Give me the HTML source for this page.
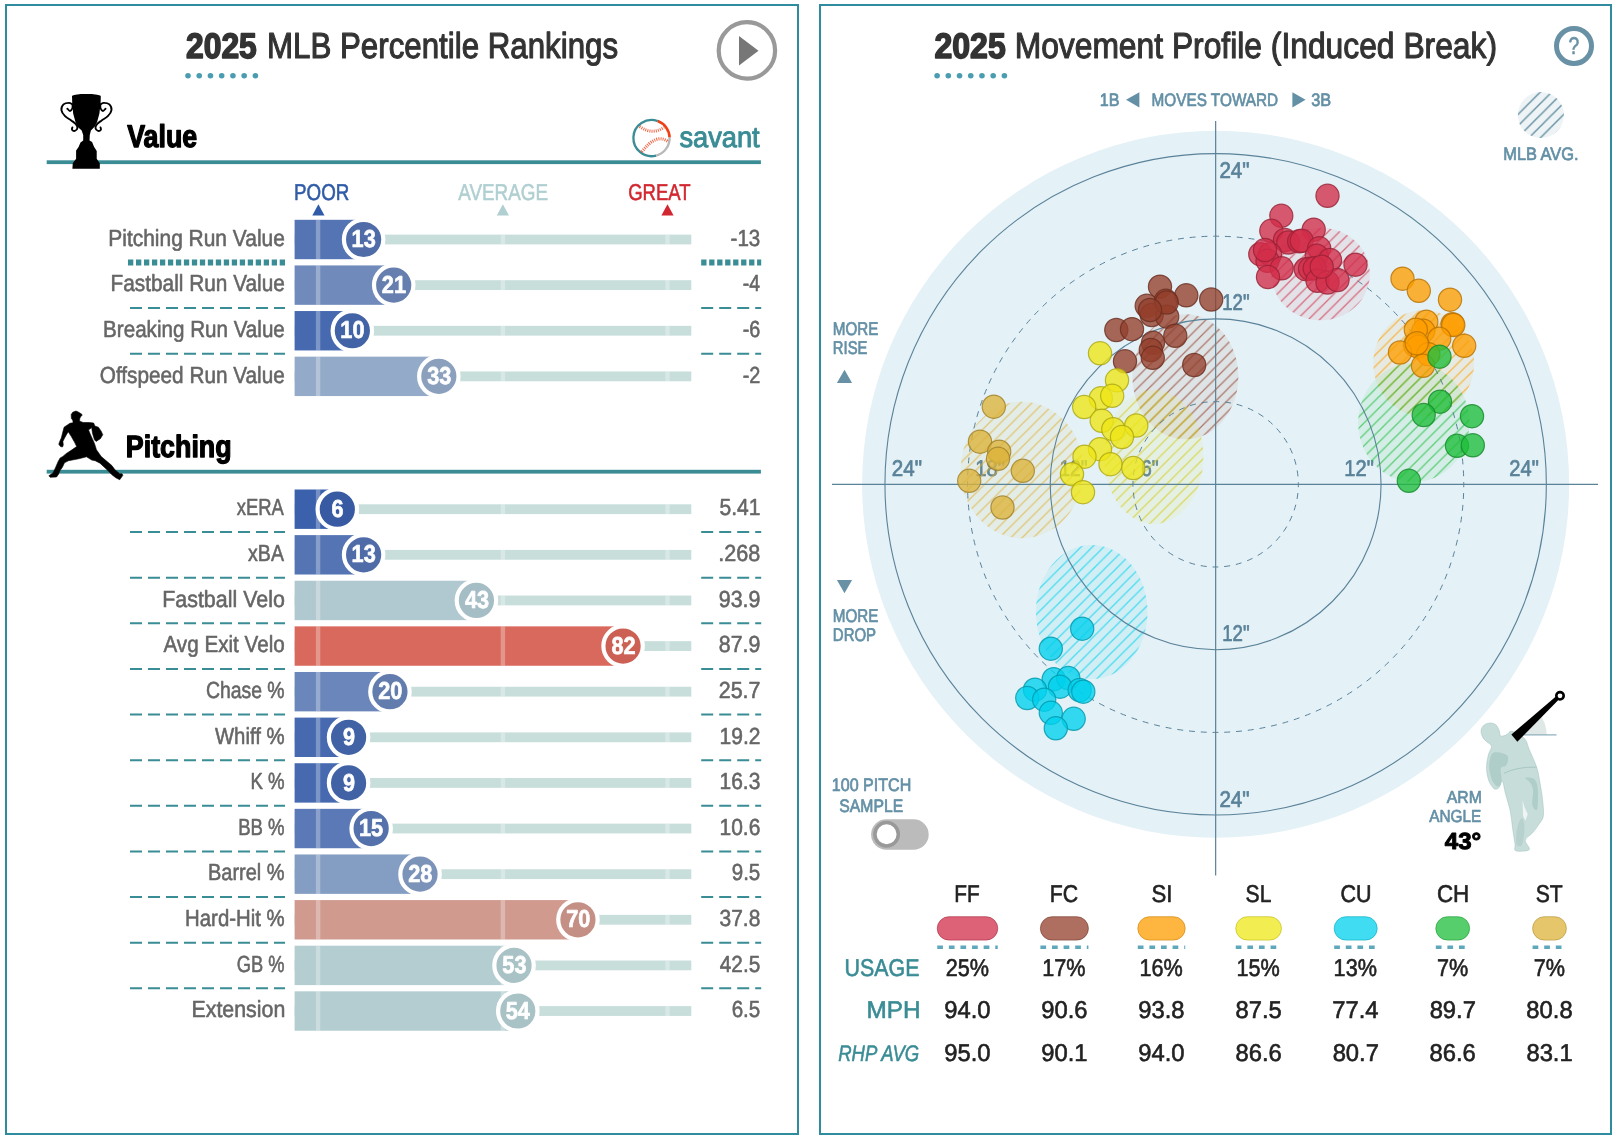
<!DOCTYPE html>
<html lang="en"><head><meta charset="utf-8"><title>Percentile Rankings and Movement Profile</title>
<style>html,body{margin:0;padding:0;background:#fff}svg{display:block;will-change:transform}</style></head>
<body>
<svg width="1620" height="1140" viewBox="0 0 1620 1140" font-family="'Liberation Sans', sans-serif" text-rendering="geometricPrecision">
<rect width="1620" height="1140" fill="#fff"/>
<rect x="6" y="5" width="792" height="1129" fill="#fff" stroke="#2f8c9f" stroke-width="2"/>
<rect x="820" y="5" width="791" height="1129" fill="#fff" stroke="#2f8c9f" stroke-width="2"/>
<text x="186.01" y="58.19" font-size="35.43" fill="#333" textLength="70.76" lengthAdjust="spacingAndGlyphs" stroke="#333" stroke-width="1.62" stroke-linejoin="round" font-weight="700">2025</text>
<text x="267.00" y="58.44" font-size="36.15" fill="#333" textLength="351.07" lengthAdjust="spacingAndGlyphs" stroke="#333" stroke-width="1.13" stroke-linejoin="round">MLB Percentile Rankings</text>
<circle cx="188.00" cy="75.7" r="2.8" fill="#4a9db0"/>
<circle cx="199.23" cy="75.7" r="2.8" fill="#4a9db0"/>
<circle cx="210.47" cy="75.7" r="2.8" fill="#4a9db0"/>
<circle cx="221.70" cy="75.7" r="2.8" fill="#4a9db0"/>
<circle cx="232.93" cy="75.7" r="2.8" fill="#4a9db0"/>
<circle cx="244.17" cy="75.7" r="2.8" fill="#4a9db0"/>
<circle cx="255.40" cy="75.7" r="2.8" fill="#4a9db0"/>
<circle cx="746.9" cy="50.4" r="28.2" fill="none" stroke="#999" stroke-width="4.2"/>
<path d="M739 36 L739 65.5 L758.5 50.7 Z" fill="#777"/>
<rect x="46.7" y="160.3" width="714.2" height="3.8" fill="#3a8c95"/>
<rect x="46.7" y="469.8" width="714.2" height="3.8" fill="#3a8c95"/>
<path d="M72.01 96.34 L72.55 95.41 L75.48 94.64 L80.89 94.10 L86.29 93.95 L91.70 94.10 L97.10 94.64 L100.19 95.41 L100.81 96.34 L100.58 103.44 L99.42 113.48 L97.10 121.98 L94.79 126.61 L90.93 130.47 L89.77 135.10 L89.54 140.51 L92.08 142.05 L94.02 146.69 L96.72 150.93 L96.72 158.66 L99.81 163.29 L99.81 168.69 L72.39 168.69 L72.78 163.29 L76.10 158.66 L76.10 150.55 L78.57 147.07 L80.50 142.44 L83.20 140.51 L83.20 135.10 L81.66 130.47 L77.80 127.00 L75.48 121.98 L73.17 113.48 L72.24 103.44 Z" fill="#000"/>
<path d="M72.55 104.37 C71.94 104.11 70.42 102.83 68.92 102.83 C67.41 102.83 64.76 103.17 63.51 104.37 C62.27 105.57 61.17 108.04 61.43 110.01 C61.69 111.98 63.42 114.45 65.06 116.19 C66.69 117.92 69.43 119.11 71.24 120.43 C73.04 121.76 74.84 122.85 75.87 124.14 C76.90 125.43 77.58 127.03 77.41 128.15 C77.25 129.27 75.77 130.60 74.86 130.86 C73.96 131.11 72.42 130.28 72.01 129.70 C71.60 129.12 72.33 127.77 72.39 127.38" fill="none" stroke="#000" stroke-width="1.9" stroke-linecap="round"/>
<path d="M72.55 104.37 C72.52 105.01 72.83 107.12 72.39 108.23 C71.96 109.34 70.76 110.93 69.92 111.01 C69.09 111.09 67.80 109.08 67.37 108.69" fill="none" stroke="#000" stroke-width="1.9" stroke-linecap="round"/>
<path d="M100.35 104.37 C100.95 104.11 102.47 102.83 103.98 102.83 C105.48 102.83 108.13 103.17 109.38 104.37 C110.63 105.57 111.72 108.04 111.47 110.01 C111.21 111.98 109.47 114.45 107.84 116.19 C106.20 117.92 103.46 119.11 101.66 120.43 C99.86 121.76 98.06 122.85 97.03 124.14 C96.00 125.43 95.32 127.03 95.48 128.15 C95.65 129.27 97.13 130.60 98.03 130.86 C98.93 131.11 100.48 130.28 100.89 129.70 C101.30 129.12 100.57 127.77 100.50 127.38" fill="none" stroke="#000" stroke-width="1.9" stroke-linecap="round"/>
<path d="M100.35 104.37 C100.37 105.01 100.06 107.12 100.50 108.23 C100.94 109.34 102.14 110.93 102.97 111.01 C103.81 111.09 105.10 109.08 105.52 108.69" fill="none" stroke="#000" stroke-width="1.9" stroke-linecap="round"/>
<text x="127.18" y="147.34" font-size="31.52" fill="#000" textLength="70.06" lengthAdjust="spacingAndGlyphs" stroke="#000" stroke-width="1.31" stroke-linejoin="round" font-weight="700">Value</text>
<path d="M656.18 155.58 A18.1 18.1 0 1 1 657.69 121.09" fill="none" stroke="#3a8c95" stroke-width="2.3"/>
<path d="M657.69 121.09 A18.1 18.1 0 0 1 669.59 137.47" fill="none" stroke="#ee4015" stroke-width="2.6"/>
<path d="M669.59 137.47 A18.1 18.1 0 0 1 656.18 155.58" fill="none" stroke="#b8b8b8" stroke-width="2.3"/>
<path d="M639.61 126.52 Q652.40 135.52 664.04 127.30" fill="none" stroke="#ee4a25" stroke-width="3" stroke-dasharray="1 1.15" opacity=".85"/>
<path d="M641.67 151.95 Q656.51 132.78 667.69 141.45" fill="none" stroke="#ee4a25" stroke-width="3.2" stroke-dasharray="1 1.15" opacity=".85"/>
<text x="679.42" y="147.12" font-size="28.97" fill="#3a8c95" textLength="80.29" lengthAdjust="spacingAndGlyphs" stroke="#3a8c95" stroke-width="0.97" stroke-linejoin="round">savant</text>
<text x="294.05" y="199.71" font-size="22.86" fill="#2f5ba8" textLength="55.24" lengthAdjust="spacingAndGlyphs" stroke="#2f5ba8" stroke-width="0.57" stroke-linejoin="round">POOR</text>
<text x="458.25" y="199.71" font-size="22.86" fill="#b0cfd1" textLength="89.76" lengthAdjust="spacingAndGlyphs" stroke="#b0cfd1" stroke-width="0.57" stroke-linejoin="round">AVERAGE</text>
<text x="628.17" y="199.71" font-size="22.86" fill="#d22730" textLength="62.46" lengthAdjust="spacingAndGlyphs" stroke="#d22730" stroke-width="0.57" stroke-linejoin="round">GREAT</text>
<path d="M318.4 204.2 L324.5 215.5 L312.29999999999995 215.5 Z" fill="#2f5ba8"/>
<path d="M502.9 204.2 L509.0 215.5 L496.79999999999995 215.5 Z" fill="#b0cfd1"/>
<path d="M667.5 204.2 L673.6 215.5 L661.4 215.5 Z" fill="#d22730"/>
<rect x="294.6" y="234.60" width="396.70" height="9.8" fill="#c7dedb"/>
<rect x="294.6" y="219.80" width="69.03" height="39.4" fill="#5474b4"/>
<rect x="315.90" y="219.80" width="4.4" height="39.4" fill="#fff" opacity=".3"/>
<rect x="500.70" y="234.60" width="4.4" height="9.8" fill="#fff" opacity=".3"/>
<rect x="665.30" y="234.60" width="4.4" height="9.8" fill="#fff" opacity=".3"/>
<circle cx="363.63" cy="239.50" r="19.7" fill="#4f6ca8" stroke="#fff" stroke-width="4.2"/>
<text x="351.57" y="247.14" font-size="24.40" fill="#fff" textLength="24.15" lengthAdjust="spacingAndGlyphs" stroke="#fff" stroke-width="0.71" stroke-linejoin="round" font-weight="700">13</text>
<text x="108.29" y="245.71" font-size="23.28" fill="#666" textLength="176.54" lengthAdjust="spacingAndGlyphs" stroke="#666" stroke-width="0.58" stroke-linejoin="round">Pitching Run Value</text>
<text x="730.58" y="245.71" font-size="23.28" fill="#666" textLength="29.74" lengthAdjust="spacingAndGlyphs" stroke="#666" stroke-width="0.58" stroke-linejoin="round">-13</text>
<rect x="294.6" y="280.22" width="396.70" height="9.8" fill="#c7dedb"/>
<rect x="294.6" y="265.42" width="99.11" height="39.4" fill="#6f8abb"/>
<rect x="315.90" y="265.42" width="4.4" height="39.4" fill="#fff" opacity=".3"/>
<rect x="500.70" y="280.22" width="4.4" height="9.8" fill="#fff" opacity=".3"/>
<rect x="665.30" y="280.22" width="4.4" height="9.8" fill="#fff" opacity=".3"/>
<circle cx="393.71" cy="285.12" r="19.7" fill="#667fae" stroke="#fff" stroke-width="4.2"/>
<text x="381.86" y="292.76" font-size="24.40" fill="#fff" textLength="24.15" lengthAdjust="spacingAndGlyphs" stroke="#fff" stroke-width="0.71" stroke-linejoin="round" font-weight="700">21</text>
<text x="110.60" y="291.33" font-size="23.28" fill="#666" textLength="174.23" lengthAdjust="spacingAndGlyphs" stroke="#666" stroke-width="0.58" stroke-linejoin="round">Fastball Run Value</text>
<text x="742.73" y="291.33" font-size="23.28" fill="#666" textLength="17.25" lengthAdjust="spacingAndGlyphs" stroke="#666" stroke-width="0.58" stroke-linejoin="round">-4</text>
<rect x="294.6" y="325.84" width="396.70" height="9.8" fill="#c7dedb"/>
<rect x="294.6" y="311.04" width="57.75" height="39.4" fill="#4669b0"/>
<rect x="315.90" y="311.04" width="4.4" height="39.4" fill="#fff" opacity=".3"/>
<rect x="500.70" y="325.84" width="4.4" height="9.8" fill="#fff" opacity=".3"/>
<rect x="665.30" y="325.84" width="4.4" height="9.8" fill="#fff" opacity=".3"/>
<circle cx="352.35" cy="330.74" r="19.7" fill="#4263a5" stroke="#fff" stroke-width="4.2"/>
<text x="340.34" y="338.38" font-size="24.40" fill="#fff" textLength="24.15" lengthAdjust="spacingAndGlyphs" stroke="#fff" stroke-width="0.71" stroke-linejoin="round" font-weight="700">10</text>
<text x="103.12" y="336.95" font-size="23.28" fill="#666" textLength="181.70" lengthAdjust="spacingAndGlyphs" stroke="#666" stroke-width="0.58" stroke-linejoin="round">Breaking Run Value</text>
<text x="742.71" y="336.95" font-size="23.28" fill="#666" textLength="17.56" lengthAdjust="spacingAndGlyphs" stroke="#666" stroke-width="0.58" stroke-linejoin="round">-6</text>
<rect x="294.6" y="371.46" width="396.70" height="9.8" fill="#c7dedb"/>
<rect x="294.6" y="356.66" width="144.23" height="39.4" fill="#93aac8"/>
<rect x="315.90" y="356.66" width="4.4" height="39.4" fill="#fff" opacity=".3"/>
<rect x="500.70" y="371.46" width="4.4" height="9.8" fill="#fff" opacity=".3"/>
<rect x="665.30" y="371.46" width="4.4" height="9.8" fill="#fff" opacity=".3"/>
<circle cx="438.83" cy="376.36" r="19.7" fill="#8aa0bd" stroke="#fff" stroke-width="4.2"/>
<text x="427.20" y="384.00" font-size="24.40" fill="#fff" textLength="24.15" lengthAdjust="spacingAndGlyphs" stroke="#fff" stroke-width="0.71" stroke-linejoin="round" font-weight="700">33</text>
<text x="99.82" y="382.57" font-size="23.28" fill="#666" textLength="185.00" lengthAdjust="spacingAndGlyphs" stroke="#666" stroke-width="0.58" stroke-linejoin="round">Offspeed Run Value</text>
<text x="742.71" y="382.57" font-size="23.28" fill="#666" textLength="17.70" lengthAdjust="spacingAndGlyphs" stroke="#666" stroke-width="0.58" stroke-linejoin="round">-2</text>
<line x1="128" y1="262.50" x2="285" y2="262.50" stroke="#3a8c95" stroke-width="6" stroke-dasharray="5.3 2.684" stroke-dashoffset="0"/>
<line x1="701.2" y1="262.50" x2="761.2" y2="262.50" stroke="#3a8c95" stroke-width="6" stroke-dasharray="5.3 2.684" stroke-dashoffset="0"/>
<line x1="130" y1="308.02" x2="285" y2="308.02" stroke="#3a8c95" stroke-width="2" stroke-dasharray="12 6" stroke-dashoffset="0"/>
<line x1="701.2" y1="308.02" x2="761.2" y2="308.02" stroke="#3a8c95" stroke-width="2" stroke-dasharray="12 6" stroke-dashoffset="0"/>
<line x1="130" y1="353.64" x2="285" y2="353.64" stroke="#3a8c95" stroke-width="2" stroke-dasharray="12 6" stroke-dashoffset="0"/>
<line x1="701.2" y1="353.64" x2="761.2" y2="353.64" stroke="#3a8c95" stroke-width="2" stroke-dasharray="12 6" stroke-dashoffset="0"/>
<path d="M75.91 411.05 L77.88 411.84 L81.83 414.21 L81.99 415.39 L80.65 416.73 L79.86 418.31 L79.46 420.92 L83.01 422.49 L89.33 422.49 L93.67 423.05 L94.85 426.05 L98.41 427.23 L101.17 431.18 L102.75 434.73 L100.38 438.67 L96.04 441.44 L94.46 439.86 L92.49 433.15 L91.70 427.62 L88.54 429.99 L90.51 434.73 L94.46 443.41 L96.43 449.72 L101.17 456.43 L107.09 461.56 L111.82 465.51 L114.98 469.85 L119.72 473.80 L122.08 473.80 L122.87 475.37 L119.72 479.72 L115.77 477.74 L112.22 474.98 L107.09 469.85 L99.98 463.14 L95.25 460.77 L91.70 459.98 L86.57 456.83 L78.67 458.80 L68.41 460.77 L64.47 462.75 L62.49 467.09 L59.73 471.03 L58.55 474.19 L56.57 476.95 L50.26 477.35 L48.84 475.77 L53.02 473.01 L55.39 467.88 L58.15 461.56 L60.13 458.01 L62.89 456.43 L66.05 453.67 L71.57 450.12 L76.70 446.57 L74.73 442.62 L71.18 436.31 L68.41 431.97 L67.23 433.15 L64.47 438.28 L62.89 441.44 L63.28 444.99 L62.49 446.96 L60.52 446.57 L58.78 444.20 L59.73 441.44 L61.31 437.88 L64.07 427.23 L69.99 423.28 L73.15 422.73 L72.75 420.13 L71.41 418.55 L71.18 414.60 L72.75 412.23 Z" fill="#000" stroke="#000" stroke-width=".6" stroke-linejoin="round"/>
<text x="125.85" y="457.36" font-size="30.84" fill="#000" textLength="105.80" lengthAdjust="spacingAndGlyphs" stroke="#000" stroke-width="1.28" stroke-linejoin="round" font-weight="700">Pitching</text>
<rect x="294.6" y="504.30" width="396.70" height="9.8" fill="#c7dedb"/>
<rect x="294.6" y="489.50" width="42.71" height="39.4" fill="#3b61ad"/>
<rect x="315.90" y="489.50" width="4.4" height="39.4" fill="#fff" opacity=".3"/>
<rect x="500.70" y="504.30" width="4.4" height="9.8" fill="#fff" opacity=".3"/>
<rect x="665.30" y="504.30" width="4.4" height="9.8" fill="#fff" opacity=".3"/>
<circle cx="337.31" cy="509.20" r="19.7" fill="#375aa2" stroke="#fff" stroke-width="4.2"/>
<text x="331.58" y="516.84" font-size="24.40" fill="#fff" textLength="12.04" lengthAdjust="spacingAndGlyphs" stroke="#fff" stroke-width="0.71" stroke-linejoin="round" font-weight="700">6</text>
<text x="236.78" y="515.41" font-size="23.28" fill="#666" textLength="47.16" lengthAdjust="spacingAndGlyphs" stroke="#666" stroke-width="0.58" stroke-linejoin="round">xERA</text>
<text x="719.45" y="515.41" font-size="23.28" fill="#666" textLength="40.99" lengthAdjust="spacingAndGlyphs" stroke="#666" stroke-width="0.58" stroke-linejoin="round">5.41</text>
<line x1="130" y1="532.10" x2="285" y2="532.10" stroke="#3a8c95" stroke-width="2" stroke-dasharray="12 6" stroke-dashoffset="0"/>
<line x1="701.2" y1="532.10" x2="761.2" y2="532.10" stroke="#3a8c95" stroke-width="2" stroke-dasharray="12 6" stroke-dashoffset="0"/>
<rect x="294.6" y="549.92" width="396.70" height="9.8" fill="#c7dedb"/>
<rect x="294.6" y="535.12" width="69.03" height="39.4" fill="#5474b4"/>
<rect x="315.90" y="535.12" width="4.4" height="39.4" fill="#fff" opacity=".3"/>
<rect x="500.70" y="549.92" width="4.4" height="9.8" fill="#fff" opacity=".3"/>
<rect x="665.30" y="549.92" width="4.4" height="9.8" fill="#fff" opacity=".3"/>
<circle cx="363.63" cy="554.82" r="19.7" fill="#4f6ca8" stroke="#fff" stroke-width="4.2"/>
<text x="351.57" y="562.46" font-size="24.40" fill="#fff" textLength="24.15" lengthAdjust="spacingAndGlyphs" stroke="#fff" stroke-width="0.71" stroke-linejoin="round" font-weight="700">13</text>
<text x="248.07" y="561.03" font-size="23.28" fill="#666" textLength="35.88" lengthAdjust="spacingAndGlyphs" stroke="#666" stroke-width="0.58" stroke-linejoin="round">xBA</text>
<text x="718.32" y="561.03" font-size="23.28" fill="#666" textLength="42.03" lengthAdjust="spacingAndGlyphs" stroke="#666" stroke-width="0.58" stroke-linejoin="round">.268</text>
<line x1="130" y1="577.72" x2="285" y2="577.72" stroke="#3a8c95" stroke-width="2" stroke-dasharray="12 6" stroke-dashoffset="0"/>
<line x1="701.2" y1="577.72" x2="761.2" y2="577.72" stroke="#3a8c95" stroke-width="2" stroke-dasharray="12 6" stroke-dashoffset="0"/>
<rect x="294.6" y="595.54" width="396.70" height="9.8" fill="#c7dedb"/>
<rect x="294.6" y="580.74" width="181.83" height="39.4" fill="#b0c8cf"/>
<rect x="315.90" y="580.74" width="4.4" height="39.4" fill="#fff" opacity=".3"/>
<rect x="500.70" y="595.54" width="4.4" height="9.8" fill="#fff" opacity=".3"/>
<rect x="665.30" y="595.54" width="4.4" height="9.8" fill="#fff" opacity=".3"/>
<circle cx="476.43" cy="600.44" r="19.7" fill="#a5bdc4" stroke="#fff" stroke-width="4.2"/>
<text x="464.88" y="608.08" font-size="24.40" fill="#fff" textLength="24.15" lengthAdjust="spacingAndGlyphs" stroke="#fff" stroke-width="0.71" stroke-linejoin="round" font-weight="700">43</text>
<text x="162.25" y="606.65" font-size="23.28" fill="#666" textLength="122.55" lengthAdjust="spacingAndGlyphs" stroke="#666" stroke-width="0.58" stroke-linejoin="round">Fastball Velo</text>
<text x="718.79" y="606.65" font-size="23.28" fill="#666" textLength="41.63" lengthAdjust="spacingAndGlyphs" stroke="#666" stroke-width="0.58" stroke-linejoin="round">93.9</text>
<line x1="130" y1="623.34" x2="285" y2="623.34" stroke="#3a8c95" stroke-width="2" stroke-dasharray="12 6" stroke-dashoffset="0"/>
<line x1="701.2" y1="623.34" x2="761.2" y2="623.34" stroke="#3a8c95" stroke-width="2" stroke-dasharray="12 6" stroke-dashoffset="0"/>
<rect x="294.6" y="641.16" width="396.70" height="9.8" fill="#c7dedb"/>
<rect x="294.6" y="626.36" width="328.47" height="39.4" fill="#d9695c"/>
<rect x="315.90" y="626.36" width="4.4" height="39.4" fill="#fff" opacity=".3"/>
<rect x="500.70" y="626.36" width="4.4" height="39.4" fill="#fff" opacity=".3"/>
<rect x="665.30" y="641.16" width="4.4" height="9.8" fill="#fff" opacity=".3"/>
<circle cx="623.07" cy="646.06" r="19.7" fill="#cc6054" stroke="#fff" stroke-width="4.2"/>
<text x="611.39" y="653.70" font-size="24.40" fill="#fff" textLength="24.15" lengthAdjust="spacingAndGlyphs" stroke="#fff" stroke-width="0.71" stroke-linejoin="round" font-weight="700">82</text>
<text x="163.45" y="652.27" font-size="23.28" fill="#666" textLength="121.31" lengthAdjust="spacingAndGlyphs" stroke="#666" stroke-width="0.58" stroke-linejoin="round">Avg Exit Velo</text>
<text x="718.86" y="652.27" font-size="23.28" fill="#666" textLength="41.56" lengthAdjust="spacingAndGlyphs" stroke="#666" stroke-width="0.58" stroke-linejoin="round">87.9</text>
<line x1="130" y1="668.96" x2="285" y2="668.96" stroke="#3a8c95" stroke-width="2" stroke-dasharray="12 6" stroke-dashoffset="0"/>
<line x1="701.2" y1="668.96" x2="761.2" y2="668.96" stroke="#3a8c95" stroke-width="2" stroke-dasharray="12 6" stroke-dashoffset="0"/>
<rect x="294.6" y="686.78" width="396.70" height="9.8" fill="#c7dedb"/>
<rect x="294.6" y="671.98" width="95.35" height="39.4" fill="#6a86ba"/>
<rect x="315.90" y="671.98" width="4.4" height="39.4" fill="#fff" opacity=".3"/>
<rect x="500.70" y="686.78" width="4.4" height="9.8" fill="#fff" opacity=".3"/>
<rect x="665.30" y="686.78" width="4.4" height="9.8" fill="#fff" opacity=".3"/>
<circle cx="389.95" cy="691.68" r="19.7" fill="#627cae" stroke="#fff" stroke-width="4.2"/>
<text x="378.25" y="699.32" font-size="24.40" fill="#fff" textLength="24.15" lengthAdjust="spacingAndGlyphs" stroke="#fff" stroke-width="0.71" stroke-linejoin="round" font-weight="700">20</text>
<text x="205.91" y="697.89" font-size="23.28" fill="#666" textLength="78.69" lengthAdjust="spacingAndGlyphs" stroke="#666" stroke-width="0.58" stroke-linejoin="round">Chase %</text>
<text x="718.71" y="697.89" font-size="23.28" fill="#666" textLength="41.78" lengthAdjust="spacingAndGlyphs" stroke="#666" stroke-width="0.58" stroke-linejoin="round">25.7</text>
<line x1="130" y1="714.58" x2="285" y2="714.58" stroke="#3a8c95" stroke-width="2" stroke-dasharray="12 6" stroke-dashoffset="0"/>
<line x1="701.2" y1="714.58" x2="761.2" y2="714.58" stroke="#3a8c95" stroke-width="2" stroke-dasharray="12 6" stroke-dashoffset="0"/>
<rect x="294.6" y="732.40" width="396.70" height="9.8" fill="#c7dedb"/>
<rect x="294.6" y="717.60" width="53.99" height="39.4" fill="#4669b0"/>
<rect x="315.90" y="717.60" width="4.4" height="39.4" fill="#fff" opacity=".3"/>
<rect x="500.70" y="732.40" width="4.4" height="9.8" fill="#fff" opacity=".3"/>
<rect x="665.30" y="732.40" width="4.4" height="9.8" fill="#fff" opacity=".3"/>
<circle cx="348.59" cy="737.30" r="19.7" fill="#4162a5" stroke="#fff" stroke-width="4.2"/>
<text x="342.90" y="744.94" font-size="24.40" fill="#fff" textLength="12.04" lengthAdjust="spacingAndGlyphs" stroke="#fff" stroke-width="0.71" stroke-linejoin="round" font-weight="700">9</text>
<text x="214.90" y="743.51" font-size="23.28" fill="#666" textLength="69.73" lengthAdjust="spacingAndGlyphs" stroke="#666" stroke-width="0.58" stroke-linejoin="round">Whiff %</text>
<text x="719.49" y="743.51" font-size="23.28" fill="#666" textLength="40.98" lengthAdjust="spacingAndGlyphs" stroke="#666" stroke-width="0.58" stroke-linejoin="round">19.2</text>
<line x1="130" y1="760.20" x2="285" y2="760.20" stroke="#3a8c95" stroke-width="2" stroke-dasharray="12 6" stroke-dashoffset="0"/>
<line x1="701.2" y1="760.20" x2="761.2" y2="760.20" stroke="#3a8c95" stroke-width="2" stroke-dasharray="12 6" stroke-dashoffset="0"/>
<rect x="294.6" y="778.02" width="396.70" height="9.8" fill="#c7dedb"/>
<rect x="294.6" y="763.22" width="53.99" height="39.4" fill="#4669b0"/>
<rect x="315.90" y="763.22" width="4.4" height="39.4" fill="#fff" opacity=".3"/>
<rect x="500.70" y="778.02" width="4.4" height="9.8" fill="#fff" opacity=".3"/>
<rect x="665.30" y="778.02" width="4.4" height="9.8" fill="#fff" opacity=".3"/>
<circle cx="348.59" cy="782.92" r="19.7" fill="#4162a5" stroke="#fff" stroke-width="4.2"/>
<text x="342.90" y="790.56" font-size="24.40" fill="#fff" textLength="12.04" lengthAdjust="spacingAndGlyphs" stroke="#fff" stroke-width="0.71" stroke-linejoin="round" font-weight="700">9</text>
<text x="250.47" y="789.13" font-size="23.28" fill="#666" textLength="34.11" lengthAdjust="spacingAndGlyphs" stroke="#666" stroke-width="0.58" stroke-linejoin="round">K %</text>
<text x="719.49" y="789.13" font-size="23.28" fill="#666" textLength="40.84" lengthAdjust="spacingAndGlyphs" stroke="#666" stroke-width="0.58" stroke-linejoin="round">16.3</text>
<line x1="130" y1="805.82" x2="285" y2="805.82" stroke="#3a8c95" stroke-width="2" stroke-dasharray="12 6" stroke-dashoffset="0"/>
<line x1="701.2" y1="805.82" x2="761.2" y2="805.82" stroke="#3a8c95" stroke-width="2" stroke-dasharray="12 6" stroke-dashoffset="0"/>
<rect x="294.6" y="823.64" width="396.70" height="9.8" fill="#c7dedb"/>
<rect x="294.6" y="808.84" width="76.55" height="39.4" fill="#5a79b6"/>
<rect x="315.90" y="808.84" width="4.4" height="39.4" fill="#fff" opacity=".3"/>
<rect x="500.70" y="823.64" width="4.4" height="9.8" fill="#fff" opacity=".3"/>
<rect x="665.30" y="823.64" width="4.4" height="9.8" fill="#fff" opacity=".3"/>
<circle cx="371.15" cy="828.54" r="19.7" fill="#5571ab" stroke="#fff" stroke-width="4.2"/>
<text x="359.00" y="836.18" font-size="24.40" fill="#fff" textLength="24.15" lengthAdjust="spacingAndGlyphs" stroke="#fff" stroke-width="0.71" stroke-linejoin="round" font-weight="700">15</text>
<text x="238.17" y="834.75" font-size="23.28" fill="#666" textLength="46.40" lengthAdjust="spacingAndGlyphs" stroke="#666" stroke-width="0.58" stroke-linejoin="round">BB %</text>
<text x="719.49" y="834.75" font-size="23.28" fill="#666" textLength="40.84" lengthAdjust="spacingAndGlyphs" stroke="#666" stroke-width="0.58" stroke-linejoin="round">10.6</text>
<line x1="130" y1="851.44" x2="285" y2="851.44" stroke="#3a8c95" stroke-width="2" stroke-dasharray="12 6" stroke-dashoffset="0"/>
<line x1="701.2" y1="851.44" x2="761.2" y2="851.44" stroke="#3a8c95" stroke-width="2" stroke-dasharray="12 6" stroke-dashoffset="0"/>
<rect x="294.6" y="869.26" width="396.70" height="9.8" fill="#c7dedb"/>
<rect x="294.6" y="854.46" width="125.43" height="39.4" fill="#849dc3"/>
<rect x="315.90" y="854.46" width="4.4" height="39.4" fill="#fff" opacity=".3"/>
<rect x="500.70" y="869.26" width="4.4" height="9.8" fill="#fff" opacity=".3"/>
<rect x="665.30" y="869.26" width="4.4" height="9.8" fill="#fff" opacity=".3"/>
<circle cx="420.03" cy="874.16" r="19.7" fill="#7b93b8" stroke="#fff" stroke-width="4.2"/>
<text x="408.21" y="881.80" font-size="24.40" fill="#fff" textLength="24.15" lengthAdjust="spacingAndGlyphs" stroke="#fff" stroke-width="0.71" stroke-linejoin="round" font-weight="700">28</text>
<text x="207.95" y="880.37" font-size="23.28" fill="#666" textLength="76.67" lengthAdjust="spacingAndGlyphs" stroke="#666" stroke-width="0.58" stroke-linejoin="round">Barrel %</text>
<text x="731.73" y="880.37" font-size="23.28" fill="#666" textLength="28.54" lengthAdjust="spacingAndGlyphs" stroke="#666" stroke-width="0.58" stroke-linejoin="round">9.5</text>
<line x1="130" y1="897.06" x2="285" y2="897.06" stroke="#3a8c95" stroke-width="2" stroke-dasharray="12 6" stroke-dashoffset="0"/>
<line x1="701.2" y1="897.06" x2="761.2" y2="897.06" stroke="#3a8c95" stroke-width="2" stroke-dasharray="12 6" stroke-dashoffset="0"/>
<rect x="294.6" y="914.88" width="396.70" height="9.8" fill="#c7dedb"/>
<rect x="294.6" y="900.08" width="283.35" height="39.4" fill="#d09a8f"/>
<rect x="315.90" y="900.08" width="4.4" height="39.4" fill="#fff" opacity=".3"/>
<rect x="500.70" y="900.08" width="4.4" height="39.4" fill="#fff" opacity=".3"/>
<rect x="665.30" y="914.88" width="4.4" height="9.8" fill="#fff" opacity=".3"/>
<circle cx="577.95" cy="919.78" r="19.7" fill="#c48f85" stroke="#fff" stroke-width="4.2"/>
<text x="566.16" y="927.42" font-size="24.40" fill="#fff" textLength="24.15" lengthAdjust="spacingAndGlyphs" stroke="#fff" stroke-width="0.71" stroke-linejoin="round" font-weight="700">70</text>
<text x="185.12" y="925.99" font-size="23.28" fill="#666" textLength="99.51" lengthAdjust="spacingAndGlyphs" stroke="#666" stroke-width="0.58" stroke-linejoin="round">Hard-Hit %</text>
<text x="719.49" y="925.99" font-size="23.28" fill="#666" textLength="40.83" lengthAdjust="spacingAndGlyphs" stroke="#666" stroke-width="0.58" stroke-linejoin="round">37.8</text>
<line x1="130" y1="942.68" x2="285" y2="942.68" stroke="#3a8c95" stroke-width="2" stroke-dasharray="12 6" stroke-dashoffset="0"/>
<line x1="701.2" y1="942.68" x2="761.2" y2="942.68" stroke="#3a8c95" stroke-width="2" stroke-dasharray="12 6" stroke-dashoffset="0"/>
<rect x="294.6" y="960.50" width="396.70" height="9.8" fill="#c7dedb"/>
<rect x="294.6" y="945.70" width="219.43" height="39.4" fill="#b3cdd0"/>
<rect x="315.90" y="945.70" width="4.4" height="39.4" fill="#fff" opacity=".3"/>
<rect x="500.70" y="945.70" width="4.4" height="39.4" fill="#fff" opacity=".3"/>
<rect x="665.30" y="960.50" width="4.4" height="9.8" fill="#fff" opacity=".3"/>
<circle cx="514.03" cy="965.40" r="19.7" fill="#a8c2c5" stroke="#fff" stroke-width="4.2"/>
<text x="502.32" y="973.04" font-size="24.40" fill="#fff" textLength="24.15" lengthAdjust="spacingAndGlyphs" stroke="#fff" stroke-width="0.71" stroke-linejoin="round" font-weight="700">53</text>
<text x="236.87" y="971.61" font-size="23.28" fill="#666" textLength="47.69" lengthAdjust="spacingAndGlyphs" stroke="#666" stroke-width="0.58" stroke-linejoin="round">GB %</text>
<text x="719.81" y="971.61" font-size="23.28" fill="#666" textLength="40.47" lengthAdjust="spacingAndGlyphs" stroke="#666" stroke-width="0.58" stroke-linejoin="round">42.5</text>
<line x1="130" y1="988.30" x2="285" y2="988.30" stroke="#3a8c95" stroke-width="2" stroke-dasharray="12 6" stroke-dashoffset="0"/>
<line x1="701.2" y1="988.30" x2="761.2" y2="988.30" stroke="#3a8c95" stroke-width="2" stroke-dasharray="12 6" stroke-dashoffset="0"/>
<rect x="294.6" y="1006.12" width="396.70" height="9.8" fill="#c7dedb"/>
<rect x="294.6" y="991.32" width="223.19" height="39.4" fill="#b3cdd0"/>
<rect x="315.90" y="991.32" width="4.4" height="39.4" fill="#fff" opacity=".3"/>
<rect x="500.70" y="991.32" width="4.4" height="39.4" fill="#fff" opacity=".3"/>
<rect x="665.30" y="1006.12" width="4.4" height="9.8" fill="#fff" opacity=".3"/>
<circle cx="517.79" cy="1011.02" r="19.7" fill="#a8c2c5" stroke="#fff" stroke-width="4.2"/>
<text x="505.74" y="1018.66" font-size="24.40" fill="#fff" textLength="24.15" lengthAdjust="spacingAndGlyphs" stroke="#fff" stroke-width="0.71" stroke-linejoin="round" font-weight="700">54</text>
<text x="191.54" y="1017.23" font-size="23.28" fill="#666" textLength="93.76" lengthAdjust="spacingAndGlyphs" stroke="#666" stroke-width="0.58" stroke-linejoin="round">Extension</text>
<text x="731.65" y="1017.23" font-size="23.28" fill="#666" textLength="28.63" lengthAdjust="spacingAndGlyphs" stroke="#666" stroke-width="0.58" stroke-linejoin="round">6.5</text>
<text x="934.50" y="58.19" font-size="35.43" fill="#333" textLength="71.18" lengthAdjust="spacingAndGlyphs" stroke="#333" stroke-width="1.62" stroke-linejoin="round" font-weight="700">2025</text>
<text x="1014.66" y="58.44" font-size="36.15" fill="#333" textLength="482.35" lengthAdjust="spacingAndGlyphs" stroke="#333" stroke-width="1.13" stroke-linejoin="round">Movement Profile (Induced Break)</text>
<circle cx="937.10" cy="75.7" r="2.8" fill="#4a9db0"/>
<circle cx="948.32" cy="75.7" r="2.8" fill="#4a9db0"/>
<circle cx="959.53" cy="75.7" r="2.8" fill="#4a9db0"/>
<circle cx="970.75" cy="75.7" r="2.8" fill="#4a9db0"/>
<circle cx="981.97" cy="75.7" r="2.8" fill="#4a9db0"/>
<circle cx="993.18" cy="75.7" r="2.8" fill="#4a9db0"/>
<circle cx="1004.40" cy="75.7" r="2.8" fill="#4a9db0"/>
<circle cx="1574" cy="46" r="17.5" fill="#fff" stroke="#6891a5" stroke-width="5"/>
<text x="1568.60" y="53.90" font-size="24.12" fill="#6891a5" textLength="10.73" lengthAdjust="spacingAndGlyphs" stroke="#6891a5" stroke-width="0.60" stroke-linejoin="round">?</text>
<text x="1099.73" y="106.24" font-size="18.00" fill="#6490a6" textLength="19.77" lengthAdjust="spacingAndGlyphs" stroke="#6490a6" stroke-width="0.71" stroke-linejoin="round">1B</text>
<text x="1151.51" y="106.24" font-size="18.00" fill="#6490a6" textLength="126.66" lengthAdjust="spacingAndGlyphs" stroke="#6490a6" stroke-width="0.71" stroke-linejoin="round">MOVES TOWARD</text>
<text x="1311.23" y="106.24" font-size="18.00" fill="#6490a6" textLength="19.97" lengthAdjust="spacingAndGlyphs" stroke="#6490a6" stroke-width="0.71" stroke-linejoin="round">3B</text>
<path d="M1139.4 92.3 L1139.4 107.4 L1126 99.85 Z" fill="#6490a6"/>
<path d="M1292.4 92.3 L1292.4 107.4 L1305.6 99.85 Z" fill="#6490a6"/>
<defs>
<pattern id="hFF" patternUnits="userSpaceOnUse" width="11.36" height="11.36" patternTransform="translate(3.5,0)"><path d="M-1 12.36 L12.36 -1 M-1 1 L1 -1 M10.36 12.36 L12.36 10.36" stroke="#d22d49" stroke-width="1.3" stroke-opacity="0.66" fill="none"/></pattern>
<pattern id="hFC" patternUnits="userSpaceOnUse" width="11.36" height="11.36" patternTransform="translate(3.5,0)"><path d="M-1 12.36 L12.36 -1 M-1 1 L1 -1 M10.36 12.36 L12.36 10.36" stroke="#933f2c" stroke-width="1.3" stroke-opacity="0.66" fill="none"/></pattern>
<pattern id="hSI" patternUnits="userSpaceOnUse" width="11.36" height="11.36" patternTransform="translate(3.5,0)"><path d="M-1 12.36 L12.36 -1 M-1 1 L1 -1 M10.36 12.36 L12.36 10.36" stroke="#fe9d00" stroke-width="1.3" stroke-opacity="0.66" fill="none"/></pattern>
<pattern id="hSL" patternUnits="userSpaceOnUse" width="11.36" height="11.36" patternTransform="translate(3.5,0)"><path d="M-1 12.36 L12.36 -1 M-1 1 L1 -1 M10.36 12.36 L12.36 10.36" stroke="#d2cb18" stroke-width="1.3" stroke-opacity="0.66" fill="none"/></pattern>
<pattern id="hCU" patternUnits="userSpaceOnUse" width="11.36" height="11.36" patternTransform="translate(3.5,0)"><path d="M-1 12.36 L12.36 -1 M-1 1 L1 -1 M10.36 12.36 L12.36 10.36" stroke="#00d1ed" stroke-width="1.3" stroke-opacity="0.66" fill="none"/></pattern>
<pattern id="hCH" patternUnits="userSpaceOnUse" width="11.36" height="11.36" patternTransform="translate(3.5,0)"><path d="M-1 12.36 L12.36 -1 M-1 1 L1 -1 M10.36 12.36 L12.36 10.36" stroke="#1dbe3a" stroke-width="1.3" stroke-opacity="0.66" fill="none"/></pattern>
<pattern id="hST" patternUnits="userSpaceOnUse" width="11.36" height="11.36" patternTransform="translate(3.5,0)"><path d="M-1 12.36 L12.36 -1 M-1 1 L1 -1 M10.36 12.36 L12.36 10.36" stroke="#ddb33a" stroke-width="1.3" stroke-opacity="0.66" fill="none"/></pattern>
<pattern id="hAVG" patternUnits="userSpaceOnUse" width="11.45" height="11.45" patternTransform="translate(6.5,0)"><path d="M-1 12.45 L12.45 -1 M-1 1 L1 -1 M10.45 12.45 L12.45 10.45" stroke="#6891a5" stroke-width="1.45" stroke-opacity="1" fill="none"/></pattern>
</defs>
<circle cx="1540.9" cy="115.1" r="23" fill="#eef4f5"/>
<circle cx="1540.9" cy="115.1" r="23" fill="url(#hAVG)"/>
<text x="1503.25" y="160.14" font-size="18.00" fill="#6490a6" textLength="75.35" lengthAdjust="spacingAndGlyphs" stroke="#6490a6" stroke-width="0.71" stroke-linejoin="round">MLB AVG.</text>
<circle cx="1215.65" cy="484.3" r="353.5" fill="#e4f1f6"/>
<text x="1219.42" y="177.55" font-size="22.66" fill="#5a8299" textLength="30.20" lengthAdjust="spacingAndGlyphs" stroke="#5a8299" stroke-width="0.71" stroke-linejoin="round">24&quot;</text>
<text x="1222.23" y="309.65" font-size="22.66" fill="#5a8299" textLength="27.41" lengthAdjust="spacingAndGlyphs" stroke="#5a8299" stroke-width="0.71" stroke-linejoin="round">12&quot;</text>
<text x="1222.23" y="641.15" font-size="22.66" fill="#5a8299" textLength="27.41" lengthAdjust="spacingAndGlyphs" stroke="#5a8299" stroke-width="0.71" stroke-linejoin="round">12&quot;</text>
<text x="1219.42" y="807.15" font-size="22.66" fill="#5a8299" textLength="30.20" lengthAdjust="spacingAndGlyphs" stroke="#5a8299" stroke-width="0.71" stroke-linejoin="round">24&quot;</text>
<text x="891.82" y="476.35" font-size="22.66" fill="#5a8299" textLength="30.20" lengthAdjust="spacingAndGlyphs" stroke="#5a8299" stroke-width="0.71" stroke-linejoin="round">24&quot;</text>
<text x="975.31" y="476.35" font-size="22.66" fill="#5a8299" textLength="29.69" lengthAdjust="spacingAndGlyphs" stroke="#5a8299" stroke-width="0.71" stroke-linejoin="round">18&quot;</text>
<text x="1059.40" y="476.35" font-size="22.66" fill="#5a8299" textLength="28.06" lengthAdjust="spacingAndGlyphs" stroke="#5a8299" stroke-width="0.71" stroke-linejoin="round">12&quot;</text>
<text x="1141.07" y="476.35" font-size="22.66" fill="#5a8299" textLength="17.70" lengthAdjust="spacingAndGlyphs" stroke="#5a8299" stroke-width="0.71" stroke-linejoin="round">6&quot;</text>
<text x="1344.32" y="476.35" font-size="22.66" fill="#5a8299" textLength="29.48" lengthAdjust="spacingAndGlyphs" stroke="#5a8299" stroke-width="0.71" stroke-linejoin="round">12&quot;</text>
<text x="1509.34" y="476.35" font-size="22.66" fill="#5a8299" textLength="29.45" lengthAdjust="spacingAndGlyphs" stroke="#5a8299" stroke-width="0.71" stroke-linejoin="round">24&quot;</text>
<ellipse cx="1320.6" cy="274.0" rx="49.2" ry="46.2" fill="#d22d49" fill-opacity=".08"/>
<ellipse cx="1320.6" cy="274.0" rx="49.2" ry="46.2" fill="url(#hFF)"/>
<ellipse cx="1423.7" cy="363.3" rx="50.4" ry="53" fill="#fe9d00" fill-opacity=".08"/>
<ellipse cx="1423.7" cy="363.3" rx="50.4" ry="53" fill="url(#hSI)"/>
<ellipse cx="1413.8" cy="422.5" rx="55.6" ry="59.5" fill="#1dbe3a" fill-opacity=".08"/>
<ellipse cx="1413.8" cy="422.5" rx="55.6" ry="59.5" fill="url(#hCH)"/>
<ellipse cx="1185.4" cy="376.7" rx="52.9" ry="62.5" fill="#933f2c" fill-opacity=".08"/>
<ellipse cx="1185.4" cy="376.7" rx="52.9" ry="62.5" fill="url(#hFC)"/>
<ellipse cx="1153.8" cy="457" rx="49.6" ry="67" fill="#eee716" fill-opacity=".08"/>
<ellipse cx="1153.8" cy="457" rx="49.6" ry="67" fill="url(#hSL)"/>
<ellipse cx="1022" cy="470" rx="61.3" ry="68.3" fill="#ddb33a" fill-opacity=".08"/>
<ellipse cx="1022" cy="470" rx="61.3" ry="68.3" fill="url(#hST)"/>
<ellipse cx="1091.7" cy="612" rx="55.8" ry="67" fill="#00d1ed" fill-opacity=".08"/>
<ellipse cx="1091.7" cy="612" rx="55.8" ry="67" fill="url(#hCU)"/>
<circle cx="1215.65" cy="484.3" r="330.7" fill="none" stroke="#5a8299" stroke-width="1.1"/>
<circle cx="1215.65" cy="484.3" r="165.4" fill="none" stroke="#5a8299" stroke-width="1.1"/>
<circle cx="1215.65" cy="484.3" r="248.1" fill="none" stroke="#5a8299" stroke-width="1.0" stroke-dasharray="5.905 5.905" stroke-dashoffset="2.952"/>
<circle cx="1215.65" cy="484.3" r="82.7" fill="none" stroke="#5a8299" stroke-width="1.0" stroke-dasharray="5.905 5.905" stroke-dashoffset="2.952"/>
<line x1="1215.65" y1="121" x2="1215.65" y2="875.5" stroke="#5a8299" stroke-width="1.2"/>
<line x1="832" y1="484.3" x2="1598" y2="484.3" stroke="#5a8299" stroke-width="1.2"/>
<g fill="#d22d49" fill-opacity=".78" stroke="#972034" stroke-opacity=".8" stroke-width="1.2">
<circle cx="1327.5" cy="195.8" r="11.6"/>
<circle cx="1281.3" cy="215.8" r="11.6"/>
<circle cx="1271.3" cy="230.8" r="11.6"/>
<circle cx="1313.7" cy="229.7" r="11.6"/>
<circle cx="1285" cy="240" r="11.6"/>
<circle cx="1288.3" cy="242.5" r="11.6"/>
<circle cx="1299.2" cy="241.3" r="11.6"/>
<circle cx="1301.7" cy="240.8" r="11.6"/>
<circle cx="1319.2" cy="248.3" r="11.6"/>
<circle cx="1260.3" cy="254.2" r="11.6"/>
<circle cx="1270" cy="254.2" r="11.6"/>
<circle cx="1267.5" cy="260.8" r="11.6"/>
<circle cx="1316.7" cy="255.8" r="11.6"/>
<circle cx="1330" cy="260" r="11.6"/>
<circle cx="1355.5" cy="264.7" r="11.6"/>
<circle cx="1281.7" cy="268.3" r="11.6"/>
<circle cx="1305.8" cy="269.2" r="11.6"/>
<circle cx="1310" cy="268.7" r="11.6"/>
<circle cx="1314.7" cy="268.3" r="11.6"/>
<circle cx="1268" cy="277" r="11.6"/>
<circle cx="1317.5" cy="280.8" r="11.6"/>
<circle cx="1327.5" cy="282.5" r="11.6"/>
<circle cx="1337.5" cy="280" r="11.6"/>
<circle cx="1265" cy="250" r="11.6"/>
<circle cx="1321.7" cy="266.7" r="11.6"/>
</g>
<g fill="#fe9d00" fill-opacity=".78" stroke="#b67100" stroke-opacity=".8" stroke-width="1.2">
<circle cx="1402.5" cy="278.7" r="11.6"/>
<circle cx="1418.8" cy="290.8" r="11.6"/>
<circle cx="1450" cy="299.7" r="11.6"/>
<circle cx="1426.3" cy="321.7" r="11.6"/>
<circle cx="1452.5" cy="324.2" r="11.6"/>
<circle cx="1453.3" cy="325" r="11.6"/>
<circle cx="1423.3" cy="330.8" r="11.6"/>
<circle cx="1415.8" cy="329.7" r="11.6"/>
<circle cx="1439.2" cy="338.7" r="11.6"/>
<circle cx="1464.2" cy="345.8" r="11.6"/>
<circle cx="1415" cy="345" r="11.6"/>
<circle cx="1418.3" cy="346.7" r="11.6"/>
<circle cx="1400" cy="352.5" r="11.6"/>
<circle cx="1428.3" cy="354.2" r="11.6"/>
<circle cx="1423" cy="365.8" r="11.6"/>
<circle cx="1416.7" cy="343.3" r="11.6"/>
</g>
<g fill="#933f2c" fill-opacity=".78" stroke="#692d1f" stroke-opacity=".8" stroke-width="1.2">
<circle cx="1160" cy="286.7" r="11.6"/>
<circle cx="1186.3" cy="295.3" r="11.6"/>
<circle cx="1211.2" cy="299.5" r="11.6"/>
<circle cx="1146.7" cy="305.8" r="11.6"/>
<circle cx="1165.8" cy="300.8" r="11.6"/>
<circle cx="1151.7" cy="315" r="11.6"/>
<circle cx="1167.2" cy="316.7" r="11.6"/>
<circle cx="1116.3" cy="330" r="11.6"/>
<circle cx="1132" cy="329.2" r="11.6"/>
<circle cx="1175.3" cy="335.8" r="11.6"/>
<circle cx="1153" cy="342.8" r="11.6"/>
<circle cx="1150.8" cy="350" r="11.6"/>
<circle cx="1152.8" cy="357.8" r="11.6"/>
<circle cx="1125" cy="361.3" r="11.6"/>
<circle cx="1194.2" cy="365" r="11.6"/>
<circle cx="1166.7" cy="302.5" r="11.6"/>
<circle cx="1150" cy="310" r="11.6"/>
</g>
<g fill="#eee716" fill-opacity=".78" stroke="#aba60f" stroke-opacity=".8" stroke-width="1.2">
<circle cx="1117" cy="380.3" r="11.6"/>
<circle cx="1100.8" cy="398.3" r="11.6"/>
<circle cx="1112.2" cy="395.8" r="11.6"/>
<circle cx="1084.2" cy="407" r="11.6"/>
<circle cx="1101.7" cy="420.8" r="11.6"/>
<circle cx="1136.3" cy="425.5" r="11.6"/>
<circle cx="1113.3" cy="429.2" r="11.6"/>
<circle cx="1122" cy="437" r="11.6"/>
<circle cx="1100" cy="449.2" r="11.6"/>
<circle cx="1084.5" cy="456.7" r="11.6"/>
<circle cx="1110.5" cy="464.2" r="11.6"/>
<circle cx="1133.3" cy="468" r="11.6"/>
<circle cx="1072" cy="474.2" r="11.6"/>
<circle cx="1083" cy="492.2" r="11.6"/>
<circle cx="1100" cy="353.3" r="11.6"/>
</g>
<g fill="#00d1ed" fill-opacity=".78" stroke="#0096aa" stroke-opacity=".8" stroke-width="1.2">
<circle cx="1050.8" cy="648.7" r="11.6"/>
<circle cx="1053.7" cy="679.2" r="11.6"/>
<circle cx="1068.3" cy="678" r="11.6"/>
<circle cx="1035" cy="689.7" r="11.6"/>
<circle cx="1060" cy="686.7" r="11.6"/>
<circle cx="1079.7" cy="690" r="11.6"/>
<circle cx="1083.3" cy="691.7" r="11.6"/>
<circle cx="1027.2" cy="698" r="11.6"/>
<circle cx="1044.2" cy="699.7" r="11.6"/>
<circle cx="1050.8" cy="712.8" r="11.6"/>
<circle cx="1073.7" cy="718.8" r="11.6"/>
<circle cx="1055.8" cy="728.3" r="11.6"/>
<circle cx="1082.2" cy="628.7" r="11.6"/>
</g>
<g fill="#ddb33a" fill-opacity=".78" stroke="#9f8029" stroke-opacity=".8" stroke-width="1.2">
<circle cx="993.8" cy="406.7" r="11.6"/>
<circle cx="980" cy="441.7" r="11.6"/>
<circle cx="999.2" cy="451.7" r="11.6"/>
<circle cx="998" cy="458.8" r="11.6"/>
<circle cx="1022.8" cy="470.8" r="11.6"/>
<circle cx="969.2" cy="480.8" r="11.6"/>
<circle cx="1002.5" cy="507.5" r="11.6"/>
</g>
<g fill="#1dbe3a" fill-opacity=".78" stroke="#148829" stroke-opacity=".8" stroke-width="1.2">
<circle cx="1439.5" cy="356.7" r="11.6"/>
<circle cx="1440" cy="401.7" r="11.6"/>
<circle cx="1423.7" cy="415" r="11.6"/>
<circle cx="1472" cy="416.2" r="11.6"/>
<circle cx="1457" cy="445.8" r="11.6"/>
<circle cx="1472.8" cy="445.3" r="11.6"/>
<circle cx="1408.8" cy="480.8" r="11.6"/>
</g>
<text x="832.82" y="335.44" font-size="18.42" fill="#6490a6" textLength="45.67" lengthAdjust="spacingAndGlyphs" stroke="#6490a6" stroke-width="0.73" stroke-linejoin="round">MORE</text>
<text x="832.85" y="354.34" font-size="18.42" fill="#6490a6" textLength="34.52" lengthAdjust="spacingAndGlyphs" stroke="#6490a6" stroke-width="0.73" stroke-linejoin="round">RISE</text>
<path d="M844.5 369.7 L852.1 383 L836.9 383 Z" fill="#6891a5"/>
<path d="M844.5 593.2 L852.1 580 L836.9 580 Z" fill="#6891a5"/>
<text x="832.82" y="622.44" font-size="18.42" fill="#6490a6" textLength="45.67" lengthAdjust="spacingAndGlyphs" stroke="#6490a6" stroke-width="0.73" stroke-linejoin="round">MORE</text>
<text x="832.84" y="641.44" font-size="18.42" fill="#6490a6" textLength="43.29" lengthAdjust="spacingAndGlyphs" stroke="#6490a6" stroke-width="0.73" stroke-linejoin="round">DROP</text>
<text x="831.84" y="791.24" font-size="18.14" fill="#6490a6" textLength="79.41" lengthAdjust="spacingAndGlyphs" stroke="#6490a6" stroke-width="0.72" stroke-linejoin="round">100 PITCH</text>
<text x="839.34" y="812.24" font-size="18.14" fill="#6490a6" textLength="63.87" lengthAdjust="spacingAndGlyphs" stroke="#6490a6" stroke-width="0.72" stroke-linejoin="round">SAMPLE</text>
<rect x="871.1" y="819.2" width="57.6" height="30.5" rx="15.25" fill="#bbb"/>
<circle cx="886.6" cy="834.3" r="11.7" fill="#fff" stroke="#999" stroke-width="3.5"/>
<path d="M1514.2 734.9 L1546.7 734.9 A32.5 32.5 0 0 0 1538.0 712.7 Z" fill="#dfe8e6"/>
<line x1="1524" y1="734.9" x2="1556.5" y2="734.9" stroke="#8fb0bd" stroke-width="1.1"/>
<path d="M1490.52 744.71 C1489.20 743.13 1484.99 740.76 1483.42 738.40 C1481.84 736.03 1480.92 732.74 1481.05 730.51 C1481.18 728.27 1482.63 726.24 1484.20 724.98 C1485.78 723.72 1488.54 722.93 1490.52 722.93 C1492.49 722.93 1494.59 723.72 1496.04 724.98 C1497.49 726.24 1498.41 728.66 1499.20 730.51 C1499.99 732.35 1499.46 735.37 1500.78 736.03 C1502.09 736.69 1505.25 735.24 1507.09 734.45 C1508.93 733.66 1508.93 730.64 1511.82 731.29 C1514.72 731.95 1521.56 735.37 1524.45 738.40 C1527.34 741.42 1527.48 745.50 1529.19 749.44 C1530.90 753.39 1533.26 758.39 1534.71 762.07 C1536.16 765.75 1536.95 767.86 1537.87 771.54 C1538.79 775.22 1539.44 779.43 1540.23 784.17 C1541.02 788.90 1542.07 794.69 1542.60 799.95 C1543.13 805.21 1543.92 811.79 1543.39 815.73 C1542.86 819.68 1541.29 820.73 1539.44 823.62 C1537.60 826.52 1534.71 830.33 1532.34 833.09 C1529.97 835.86 1525.77 837.43 1525.24 840.20 C1524.71 842.96 1530.76 847.90 1529.19 849.67 C1527.61 851.43 1518.14 851.69 1515.77 850.77 C1513.40 849.85 1515.51 847.88 1514.98 844.14 C1514.45 840.41 1513.40 833.88 1512.61 828.36 C1511.82 822.83 1511.43 816.78 1510.25 811.00 C1509.06 805.21 1506.83 798.63 1505.51 793.64 C1504.20 788.64 1503.41 782.06 1502.35 781.01 C1501.30 779.96 1500.51 786.01 1499.20 787.32 C1497.88 788.64 1496.17 789.95 1494.46 788.90 C1492.75 787.85 1490.25 784.43 1488.94 781.01 C1487.62 777.59 1486.70 772.59 1486.57 768.38 C1486.44 764.18 1487.36 759.18 1488.15 755.76 C1488.94 752.34 1490.91 749.71 1491.31 747.87 C1491.70 746.02 1491.83 746.29 1490.52 744.71 Z" fill="#c7ddd9" stroke="#9fc0be" stroke-width=".5" stroke-linejoin="round"/>
<path d="M1493.67 752.60 C1495.52 751.86 1499.20 752.26 1501.57 752.92 C1503.93 753.57 1507.09 754.49 1507.88 756.55 C1508.67 758.60 1507.48 763.25 1506.30 765.23 C1505.12 767.20 1501.57 765.75 1500.78 768.38 C1499.99 771.01 1501.96 777.99 1501.57 781.01 C1501.17 784.04 1499.86 786.40 1498.41 786.53 C1496.96 786.67 1494.41 784.82 1492.89 781.80 C1491.36 778.77 1489.65 772.46 1489.26 768.38 C1488.86 764.31 1489.78 759.97 1490.52 757.34 C1491.25 754.71 1491.83 753.34 1493.67 752.60 Z" fill="#a9c9c4" opacity=".8"/>
<path d="M1525.24 777.85 C1526.03 777.33 1532.61 777.33 1534.71 779.43 C1536.81 781.54 1537.47 785.48 1537.87 790.48 C1538.26 795.48 1538.00 807.05 1537.08 809.42 C1536.16 811.79 1533.00 807.84 1532.34 804.68 C1531.68 801.53 1533.53 794.16 1533.13 790.48 C1532.74 786.80 1531.29 784.69 1529.97 782.59 C1528.66 780.48 1524.45 778.38 1525.24 777.85 Z" fill="#a9c9c4" opacity=".8"/>
<path d="M1519.72 820.47 C1520.77 818.36 1522.08 817.84 1522.87 818.89 C1523.66 819.94 1524.32 823.62 1524.45 826.78 C1524.58 829.94 1524.19 834.67 1523.66 837.83 C1523.14 840.98 1522.48 844.67 1521.29 845.72 C1520.11 846.77 1517.35 846.51 1516.56 844.14 C1515.77 841.77 1516.03 835.46 1516.56 831.52 C1517.09 827.57 1518.66 822.57 1519.72 820.47 Z" fill="#a9c9c4" opacity=".55"/>
<path d="M1522.56 799.95 L1524.45 807.05 L1527.77 814.15 L1525.24 820.78 L1523.03 815.73 Z" fill="#eef5f4"/>
<path d="M1503.93 773.43 Q1515.77 766.81 1536.60 767.12" fill="none" stroke="#9fc0be" stroke-width=".8"/>
<path d="M1511.35 734.45 L1517.35 741.87 L1558.86 699.57 L1556.17 696.26 Z" fill="#000"/>
<circle cx="1560.0" cy="695.8" r="3.7" fill="#fff" stroke="#000" stroke-width="2.6"/>
<text x="1446.81" y="803.36" font-size="17.32" fill="#6490a6" textLength="35.14" lengthAdjust="spacingAndGlyphs" stroke="#6490a6" stroke-width="0.69" stroke-linejoin="round">ARM</text>
<text x="1429.31" y="821.96" font-size="17.32" fill="#6490a6" textLength="52.00" lengthAdjust="spacingAndGlyphs" stroke="#6490a6" stroke-width="0.69" stroke-linejoin="round">ANGLE</text>
<text x="1444.82" y="848.81" font-size="23.30" fill="#000" textLength="36.43" lengthAdjust="spacingAndGlyphs" stroke="#000" stroke-width="0.97" stroke-linejoin="round" font-weight="700">43°</text>
<text x="954.35" y="901.80" font-size="24.26" fill="#222" textLength="25.43" lengthAdjust="spacingAndGlyphs" stroke="#222" stroke-width="0.61" stroke-linejoin="round">FF</text>
<rect x="937.25" y="916.7" width="60.5" height="23.4" rx="11.7" fill="#d22d49" fill-opacity=".75" stroke="#a8243a" stroke-opacity=".6" stroke-width="1"/>
<line x1="937.25" y1="947.3" x2="997.75" y2="947.3" stroke="#5fa8bc" stroke-width="3.4" stroke-dasharray="5.7 5.9"/>
<text x="945.68" y="976.40" font-size="24.26" fill="#222" textLength="43.33" lengthAdjust="spacingAndGlyphs" stroke="#222" stroke-width="0.61" stroke-linejoin="round">25%</text>
<text x="944.26" y="1017.80" font-size="24.26" fill="#222" textLength="46.30" lengthAdjust="spacingAndGlyphs" stroke="#222" stroke-width="0.61" stroke-linejoin="round">94.0</text>
<text x="944.26" y="1061.10" font-size="24.26" fill="#222" textLength="46.30" lengthAdjust="spacingAndGlyphs" stroke="#222" stroke-width="0.61" stroke-linejoin="round">95.0</text>
<text x="1049.76" y="901.80" font-size="24.26" fill="#222" textLength="28.35" lengthAdjust="spacingAndGlyphs" stroke="#222" stroke-width="0.61" stroke-linejoin="round">FC</text>
<rect x="1040.40" y="916.7" width="48" height="23.4" rx="11.7" fill="#933f2c" fill-opacity=".75" stroke="#753223" stroke-opacity=".6" stroke-width="1"/>
<line x1="1040.40" y1="947.3" x2="1088.40" y2="947.3" stroke="#5fa8bc" stroke-width="3.4" stroke-dasharray="5.7 5.9"/>
<text x="1042.30" y="976.40" font-size="24.26" fill="#222" textLength="43.33" lengthAdjust="spacingAndGlyphs" stroke="#222" stroke-width="0.61" stroke-linejoin="round">17%</text>
<text x="1041.21" y="1017.80" font-size="24.26" fill="#222" textLength="46.30" lengthAdjust="spacingAndGlyphs" stroke="#222" stroke-width="0.61" stroke-linejoin="round">90.6</text>
<text x="1041.27" y="1061.10" font-size="24.26" fill="#222" textLength="46.30" lengthAdjust="spacingAndGlyphs" stroke="#222" stroke-width="0.61" stroke-linejoin="round">90.1</text>
<text x="1151.55" y="901.80" font-size="24.26" fill="#222" textLength="20.95" lengthAdjust="spacingAndGlyphs" stroke="#222" stroke-width="0.61" stroke-linejoin="round">SI</text>
<rect x="1137.80" y="916.7" width="47.4" height="23.4" rx="11.7" fill="#fe9d00" fill-opacity=".75" stroke="#cb7d00" stroke-opacity=".6" stroke-width="1"/>
<line x1="1137.80" y1="947.3" x2="1185.20" y2="947.3" stroke="#5fa8bc" stroke-width="3.4" stroke-dasharray="5.7 5.9"/>
<text x="1139.40" y="976.40" font-size="24.26" fill="#222" textLength="43.33" lengthAdjust="spacingAndGlyphs" stroke="#222" stroke-width="0.61" stroke-linejoin="round">16%</text>
<text x="1138.31" y="1017.80" font-size="24.26" fill="#222" textLength="46.30" lengthAdjust="spacingAndGlyphs" stroke="#222" stroke-width="0.61" stroke-linejoin="round">93.8</text>
<text x="1138.26" y="1061.10" font-size="24.26" fill="#222" textLength="46.30" lengthAdjust="spacingAndGlyphs" stroke="#222" stroke-width="0.61" stroke-linejoin="round">94.0</text>
<text x="1245.60" y="901.80" font-size="24.26" fill="#222" textLength="25.75" lengthAdjust="spacingAndGlyphs" stroke="#222" stroke-width="0.61" stroke-linejoin="round">SL</text>
<rect x="1235.75" y="916.7" width="45.7" height="23.4" rx="11.7" fill="#eee716" fill-opacity=".75" stroke="#beb811" stroke-opacity=".6" stroke-width="1"/>
<line x1="1235.75" y1="947.3" x2="1281.45" y2="947.3" stroke="#5fa8bc" stroke-width="3.4" stroke-dasharray="5.7 5.9"/>
<text x="1236.50" y="976.40" font-size="24.26" fill="#222" textLength="43.33" lengthAdjust="spacingAndGlyphs" stroke="#222" stroke-width="0.61" stroke-linejoin="round">15%</text>
<text x="1235.43" y="1017.80" font-size="24.26" fill="#222" textLength="46.30" lengthAdjust="spacingAndGlyphs" stroke="#222" stroke-width="0.61" stroke-linejoin="round">87.5</text>
<text x="1235.46" y="1061.10" font-size="24.26" fill="#222" textLength="46.30" lengthAdjust="spacingAndGlyphs" stroke="#222" stroke-width="0.61" stroke-linejoin="round">86.6</text>
<text x="1340.46" y="901.80" font-size="24.26" fill="#222" textLength="31.04" lengthAdjust="spacingAndGlyphs" stroke="#222" stroke-width="0.61" stroke-linejoin="round">CU</text>
<rect x="1334.20" y="916.7" width="43" height="23.4" rx="11.7" fill="#00d1ed" fill-opacity=".75" stroke="#00a7bd" stroke-opacity=".6" stroke-width="1"/>
<line x1="1334.20" y1="947.3" x2="1377.20" y2="947.3" stroke="#5fa8bc" stroke-width="3.4" stroke-dasharray="5.7 5.9"/>
<text x="1333.60" y="976.40" font-size="24.26" fill="#222" textLength="43.33" lengthAdjust="spacingAndGlyphs" stroke="#222" stroke-width="0.61" stroke-linejoin="round">13%</text>
<text x="1332.29" y="1017.80" font-size="24.26" fill="#222" textLength="46.30" lengthAdjust="spacingAndGlyphs" stroke="#222" stroke-width="0.61" stroke-linejoin="round">77.4</text>
<text x="1332.63" y="1061.10" font-size="24.26" fill="#222" textLength="46.30" lengthAdjust="spacingAndGlyphs" stroke="#222" stroke-width="0.61" stroke-linejoin="round">80.7</text>
<text x="1436.92" y="901.80" font-size="24.26" fill="#222" textLength="32.25" lengthAdjust="spacingAndGlyphs" stroke="#222" stroke-width="0.61" stroke-linejoin="round">CH</text>
<rect x="1435.80" y="916.7" width="33.8" height="23.4" rx="11.7" fill="#1dbe3a" fill-opacity=".75" stroke="#17982e" stroke-opacity=".6" stroke-width="1"/>
<line x1="1435.80" y1="947.3" x2="1469.60" y2="947.3" stroke="#5fa8bc" stroke-width="3.4" stroke-dasharray="5.7 5.9"/>
<text x="1436.89" y="976.40" font-size="24.26" fill="#222" textLength="31.29" lengthAdjust="spacingAndGlyphs" stroke="#222" stroke-width="0.61" stroke-linejoin="round">7%</text>
<text x="1429.63" y="1017.80" font-size="24.26" fill="#222" textLength="46.30" lengthAdjust="spacingAndGlyphs" stroke="#222" stroke-width="0.61" stroke-linejoin="round">89.7</text>
<text x="1429.56" y="1061.10" font-size="24.26" fill="#222" textLength="46.30" lengthAdjust="spacingAndGlyphs" stroke="#222" stroke-width="0.61" stroke-linejoin="round">86.6</text>
<text x="1535.74" y="901.80" font-size="24.26" fill="#222" textLength="27.04" lengthAdjust="spacingAndGlyphs" stroke="#222" stroke-width="0.61" stroke-linejoin="round">ST</text>
<rect x="1532.60" y="916.7" width="33.8" height="23.4" rx="11.7" fill="#ddb33a" fill-opacity=".75" stroke="#b08f2e" stroke-opacity=".6" stroke-width="1"/>
<line x1="1532.60" y1="947.3" x2="1566.40" y2="947.3" stroke="#5fa8bc" stroke-width="3.4" stroke-dasharray="5.7 5.9"/>
<text x="1533.69" y="976.40" font-size="24.26" fill="#222" textLength="31.29" lengthAdjust="spacingAndGlyphs" stroke="#222" stroke-width="0.61" stroke-linejoin="round">7%</text>
<text x="1526.35" y="1017.80" font-size="24.26" fill="#222" textLength="46.30" lengthAdjust="spacingAndGlyphs" stroke="#222" stroke-width="0.61" stroke-linejoin="round">80.8</text>
<text x="1526.41" y="1061.10" font-size="24.26" fill="#222" textLength="46.30" lengthAdjust="spacingAndGlyphs" stroke="#222" stroke-width="0.61" stroke-linejoin="round">83.1</text>
<text x="844.55" y="976.40" font-size="24.26" fill="#3a8c95" textLength="74.86" lengthAdjust="spacingAndGlyphs" stroke="#3a8c95" stroke-width="0.61" stroke-linejoin="round">USAGE</text>
<text x="866.41" y="1017.80" font-size="24.26" fill="#3a8c95" textLength="54.07" lengthAdjust="spacingAndGlyphs" stroke="#3a8c95" stroke-width="0.61" stroke-linejoin="round">MPH</text>
<text x="838.23" y="1060.62" font-size="22.44" fill="#3a8c95" textLength="81.07" lengthAdjust="spacingAndGlyphs" stroke="#3a8c95" stroke-width="0.56" stroke-linejoin="round" font-style="italic">RHP AVG</text>
</svg>
</body></html>
